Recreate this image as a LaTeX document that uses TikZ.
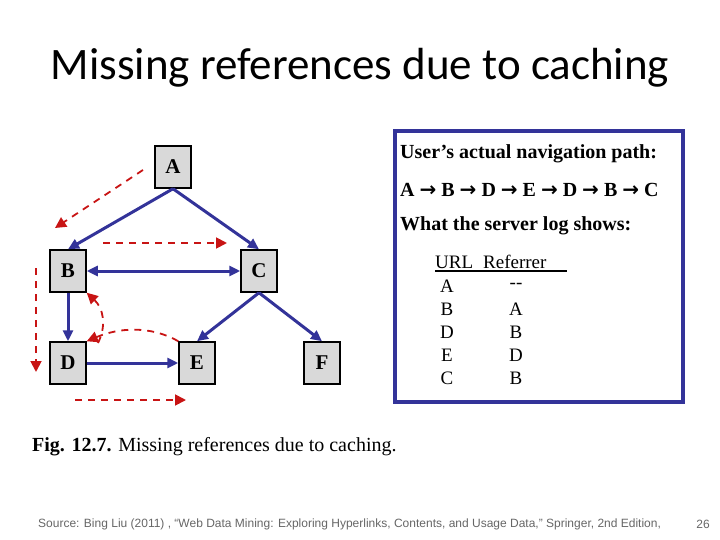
\documentclass[tikz,border=0pt]{standalone}
\usepackage{fontspec}
\setmainfont{Liberation Serif}
\newfontfamily\titlefont{Carlito}
\newfontfamily\srcfont{Liberation Sans}
\newfontfamily\arrowfont{DejaVu Sans}
\usetikzlibrary{arrows.meta}
\definecolor{navy}{RGB}{51,51,153}
\definecolor{darkred}{RGB}{200,20,20}
\newcommand{\nav}{ {\arrowfont\bfseries→}\ }
\tikzset{
    page/.style={x=1pt, y=-1pt},
    pagebox/.style={draw=black, line width=1.5pt, fill=black!15, minimum width=36pt, minimum height=42pt, inner sep=0pt, font=\fontsize{21}{21}\selectfont\bfseries},
    link/.style={navy, line width=3pt, -{Triangle[length=11pt,width=10pt]}},
    visit/.style={darkred, line width=1.8pt, dash pattern=on 7pt off 6pt, -{Triangle[length=11pt,width=11pt]}},
    logtext/.style={anchor=west, font=\fontsize{20}{20}\selectfont\bfseries, inner sep=0pt},
    cell/.style={font=\fontsize{19}{19}\selectfont}
}
\begin{document}
\begin{tikzpicture}[page]
    \useasboundingbox (0,0) rectangle (720,540);
    % Title
    \node (title) at (360,68) {\titlefont\fontsize{45}{48}\selectfont Missing references due to caching};

    % Pages
    \node[pagebox] (A) at (173,167) {A};
    \node[pagebox] (B) at (68,271) {B};
    \node[pagebox] (C) at (259,271) {C};
    \node[pagebox] (D) at (68,363) {D};
    \node[pagebox] (E) at (197,363) {E};
    \node[pagebox] (F) at (322,363) {F};

    % Hyperlinks
    \draw[link] (A.south) -- (B.north);
    \draw[link] (A.south) -- (C.north);
    \draw[link, {Triangle[length=11pt,width=10pt]}-{Triangle[length=11pt,width=10pt]}] (B) -- (C);
    \draw[link] (B.south) -- (D.north);
    \draw[link] (C.south) -- (E.north);
    \draw[link] (C.south) -- (F.north);
    \draw[link] (D) -- (E);

    % Navigation
    \coordinate (p1) at (143,170); \coordinate (p2) at (55,228);
    \coordinate (p3) at (103,243); \coordinate (p4) at (227,243);
    \coordinate (p5) at (36,268); \coordinate (p6) at (36,372);
    \coordinate (p7) at (75,400); \coordinate (p8) at (186,400);
    \draw[visit] (p1) -- (p2);
    \draw[visit] (p3) -- (p4);
    \draw[visit] (p5) -- (p6);
    \draw[visit] (p7) -- (p8);
    \draw[visit] (E.north west) .. controls (150,325) and (118,328) .. (D.north east);
    \draw[visit] (98,343) .. controls (107,325) and (103,308) .. (B.south east);

    % Server log
    \draw[navy, line width=3.5pt] (395,131) rectangle (683,402);
    \node[logtext] (path) at (400,154) {User’s actual navigation path:};
    \node[logtext] (seq) at (400,190) {A\nav B\nav D\nav E\nav D\nav B\nav C};
    \node[logtext] (shows) at (400,226) {What the server log shows:};
    \node[anchor=west, inner sep=0pt, cell] (head) at (435,262) {URL\hspace{10pt}Referrer};
    \draw[line width=1.2pt] (435,271) -- (567,271);
    \foreach \u/\r [count=\i] in {A/{-}{-}, B/A, D/B, E/D, C/B} {
        \node[cell] (u\i) at (447,263+23*\i) {\u};
        \node[cell] (r\i) at (516,263+23*\i) {\r};
    }

    % Caption and source
    \node[anchor=west, inner sep=0pt, font=\fontsize{20}{20}\selectfont] (caption) at (32,447) {\textbf{Fig. 12.7.} Missing references due to caching.};
    \node[anchor=west, inner sep=0pt, text=black!60, font=\srcfont\fontsize{12}{12}\selectfont] (source) at (38,524) {Source: Bing Liu (2011) , “Web Data Mining: Exploring Hyperlinks, Contents, and Usage Data,” Springer, 2nd Edition,};
    \node[text=black!60, font=\srcfont\fontsize{12}{12}\selectfont] (num) at (703,524) {26};
\end{tikzpicture}
\end{document}
